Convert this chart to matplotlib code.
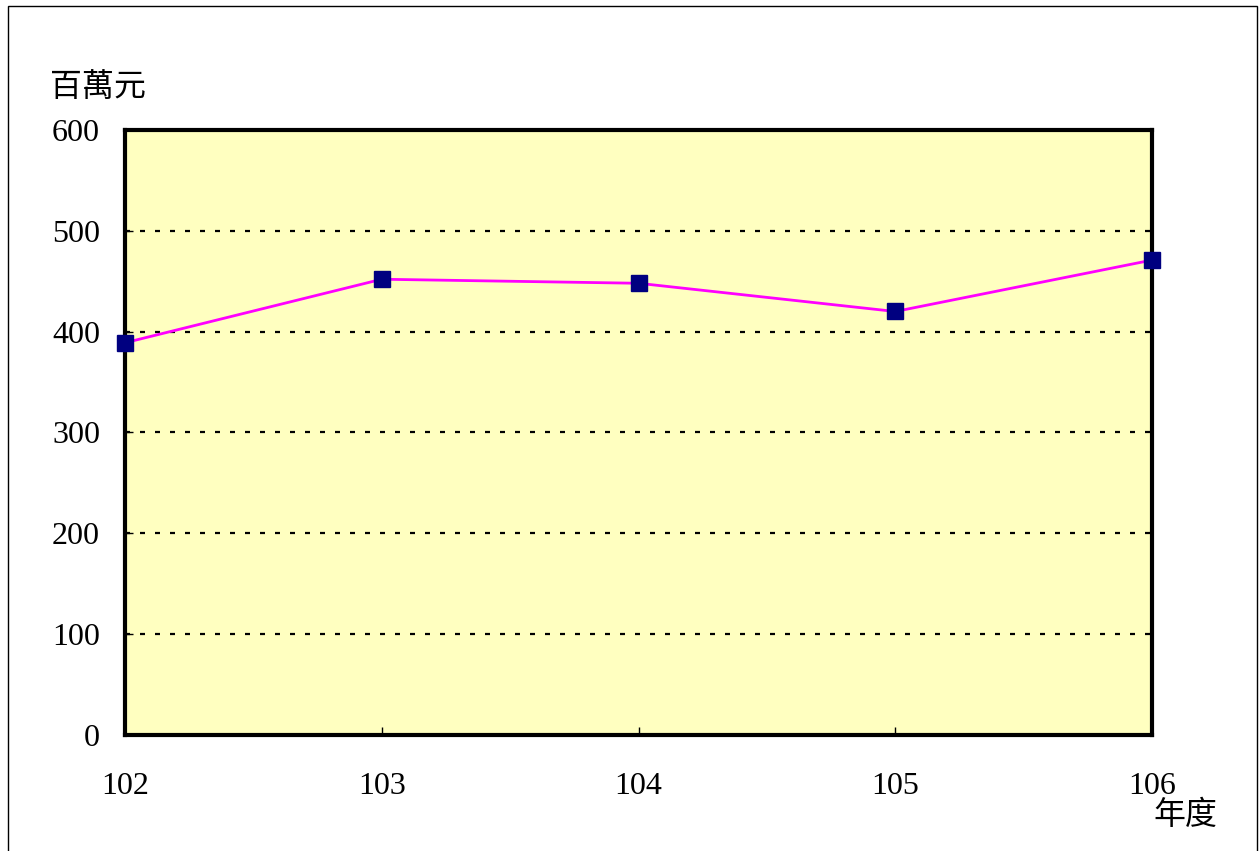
import matplotlib.pyplot as plt
from matplotlib.patches import Rectangle

plt.rcParams['font.family'] = ['Liberation Serif', 'Noto Sans CJK TC']
plt.rcParams['lines.scale_dashes'] = False

# 年度與金額(百萬元)
years = ['102', '103', '104', '105', '106']
values = [389, 452, 448, 420, 471]

fig = plt.figure(figsize=(12.59, 8.51), dpi=100)
W, H = 1259, 851
ax = fig.add_axes([125 / W, (H - 735) / H, (1152 - 125) / W, (735 - 130) / H])
ax.set_facecolor('#FFFFC0')

x = list(range(len(years)))
ax.plot(x, values, color='#FF00FF', lw=2, marker='s', ms=11,
        mfc='#000080', mec='#000080', zorder=5, clip_on=False)

ax.set_xlim(0, len(years) - 1)
ax.set_ylim(0, 600)
ax.set_yticks(range(0, 601, 100))
ax.set_xticks(x)
ax.set_xticklabels(years)

for yv in range(100, 600, 100):
    ax.axhline(yv, color='black', lw=1.6, ls=(0, (3.6, 7.2)), zorder=1)

for s in ax.spines.values():
    s.set_linewidth(3)
    s.set_color('black')

ax.tick_params(axis='both', direction='in', length=6, width=1, labelsize=23)
ax.tick_params(axis='x', pad=27)
ax.tick_params(axis='y', pad=18)

fig.text(50 / W, 1 - 87 / H, '百萬元', fontsize=23, family='Noto Sans CJK TC',
         ha='left', va='center')
fig.text(1217 / W, 1 - 815 / H, '年度', fontsize=23, family='Noto Sans CJK TC',
         ha='right', va='center')

# 外框
fig.patches.append(Rectangle((8 / W, -0.01), (1257 - 8) / W, 1 - 6 / H + 0.01,
                             transform=fig.transFigure, fill=False,
                             edgecolor='black', lw=1))

fig.savefig('out.png', dpi=100)
